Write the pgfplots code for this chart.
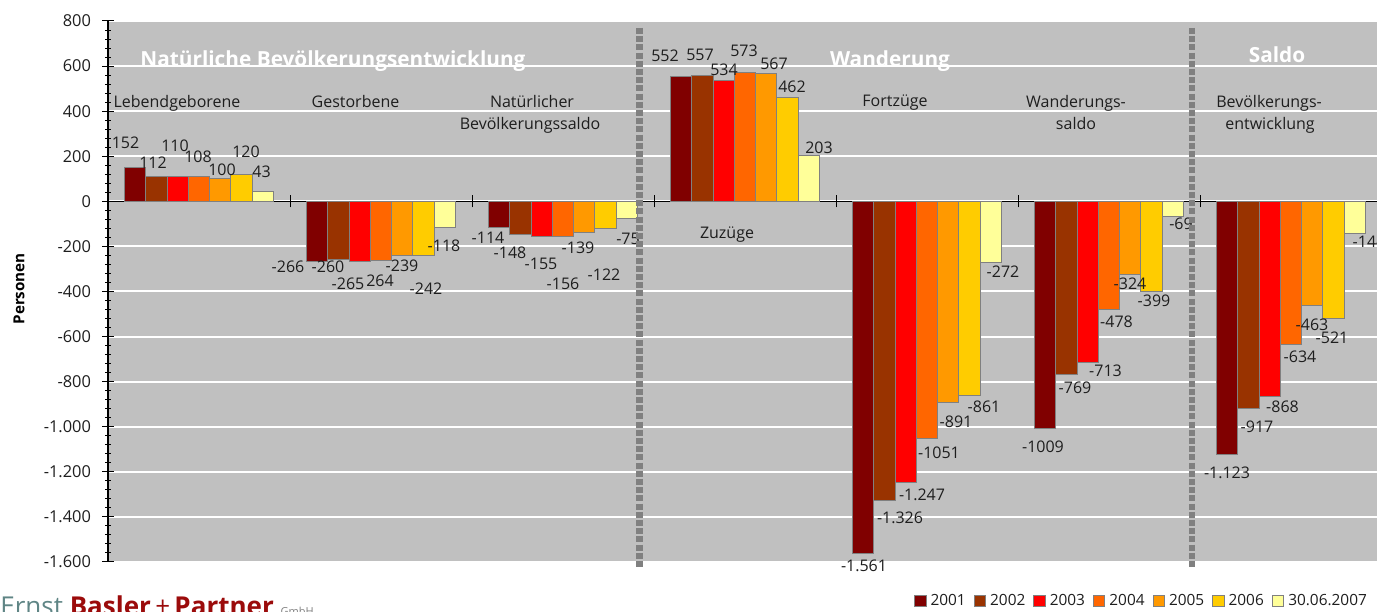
\documentclass[border=0pt]{standalone}
\usepackage{pgfplots}
\usepackage{pgfplotstable}
\pgfplotsset{compat=1.18}
\usepackage{fontspec}
\setmainfont{Open Sans}
\definecolor{c1}{HTML}{800000}
\definecolor{c2}{HTML}{993300}
\definecolor{c3}{HTML}{FF0000}
\definecolor{c4}{HTML}{FF6600}
\definecolor{c5}{HTML}{FF9900}
\definecolor{c6}{HTML}{FFCC00}
\definecolor{c7}{HTML}{FFFF99}
\definecolor{bg}{HTML}{C0C0C0}
\definecolor{sep}{HTML}{808080}
\definecolor{txt}{HTML}{1E1E1E}
\definecolor{logored}{HTML}{9B0B0B}
\definecolor{logoteal}{HTML}{5F8585}

\pgfplotstableread{
x y1 y2 y3 y4 y5 y6 y7
0 152 112 110 108 100 120 43
1 -266 -260 -265 -264 -239 -242 -118
2 -114 -148 -155 -156 -139 -122 -75
3 552 557 534 573 567 462 203
4 -1561 -1326 -1247 -1051 -891 -861 -272
5 -1009 -769 -713 -478 -324 -399 -69
6 -1123 -917 -868 -634 -463 -521 -144
}\datatable

% label placed by reference pixel position, converted to axis coordinates
\newcommand{\lbl}[4][]{%
 \pgfmathsetmacro\lx{(#2-108)/182-0.5}%
 \pgfmathsetmacro\ly{(201.4-#3)/0.22542}%
 \edef\tmp{\noexpand\node[lbl,\unexpanded{#1}] at (axis cs:\lx,\ly) {\unexpanded{#4}};}\tmp}
\newcommand{\sepline}[1]{%
 \pgfmathsetmacro\lx{(#1-108)/182-0.5}%
 \edef\tmp{\noexpand\draw[sep, line width=3.3pt, dash pattern=on 3pt off 1.1pt] (axis cs:\lx,769) -- (axis cs:\lx,-1628);}\tmp}

\tikzset{lbl/.style={font=\fontsize{8}{10}\selectfont, text=txt, inner sep=0pt, text depth=0pt, anchor=center},
 ttl/.style={font=\bfseries\fontsize{10.4}{12}\selectfont, text=white}}

\begin{document}
\begin{tikzpicture}
\useasboundingbox (0,0) rectangle (688.5pt,305.5pt);
\begin{axis}[
 at={(54pt,24.5pt)}, anchor=south west,
 scale only axis, width=634.5pt, height=270.5pt,
 xmin=-0.5, xmax=6.4725, ymin=-1600, ymax=800,
 axis x line=middle, axis y line=left,
 hide obscured x ticks=false, hide obscured y ticks=false,
 axis line style={-, black, line width=0.6pt},
 axis background/.style={fill=bg},
 clip=false,
 ybar=0pt, bar width=10.65pt,
 xtick={0.5,1.5,2.5,3.5,4.5,5.5}, xticklabels={},
 ytick={-1600,-1400,...,800}, minor y tick num=4,
 tick align=center, major tick length=6pt, minor tick length=3pt,
 tick style={black, line width=0.5pt},
 ymajorgrids, major grid style={white, line width=1pt},
 /pgf/number format/assume math mode=true,
 /pgf/number format/1000 sep={.},
 yticklabel style={font=\fontsize{8.2}{10}\selectfont, text=txt, xshift=-2pt},
 ylabel={Personen},
 ylabel style={at={(axis description cs:-0.0701,0.505)}, anchor=center, font=\bfseries\fontsize{7.6}{10}\selectfont, text=black},
 legend columns=7,
 legend style={draw=none, fill=none, at={(0.9955,-0.0721)}, anchor=east, inner sep=0pt,
   font=\fontsize{7.7}{9}\selectfont, text=txt,
   /tikz/every even column/.append style={column sep=2pt}},
 legend image code/.code={\draw[#1, draw=sep, line width=0.5pt] (0pt,-2.85pt) rectangle (5.7pt,2.85pt);},
 every axis plot/.append style={draw=sep, line width=0.5pt},
]
\addplot[fill=c1] table[x=x,y=y1] {\datatable};
\addplot[fill=c2] table[x=x,y=y2] {\datatable};
\addplot[fill=c3] table[x=x,y=y3] {\datatable};
\addplot[fill=c4] table[x=x,y=y4] {\datatable};
\addplot[fill=c5] table[x=x,y=y5] {\datatable};
\addplot[fill=c6] table[x=x,y=y6] {\datatable};
\addplot[fill=c7] table[x=x,y=y7] {\datatable};
\legend{2001,2002,2003,2004,2005,2006,30.06.2007}

% value labels
\lbl{125.5}{143}{152}\lbl{153}{163}{112}\lbl{175}{146}{110}\lbl{198}{157}{108}\lbl{222}{170}{100}\lbl{246}{152}{120}\lbl{261.5}{172}{43}
\lbl{288}{267}{-266}\lbl{328}{267}{-260}\lbl{348}{284}{-265}\lbl{380}{281}{264}\lbl{402}{266}{-239}\lbl{426}{289}{-242}\lbl{444}{246}{-118}
\lbl{488}{238}{-114}\lbl{510}{253}{-148}\lbl{541}{264}{-155}\lbl{563}{284}{-156}\lbl{578}{248}{-139}\lbl{604}{275}{-122}\lbl{628}{239}{-75}
\lbl{665}{56}{552}\lbl{700}{55}{557}\lbl{724}{70}{534}\lbl{744}{51}{573}\lbl{774}{64}{567}\lbl{792}{87}{462}\lbl{819}{148}{203}
\lbl{864}{566}{-1.561}\lbl{900}{518}{-1.326}\lbl{922}{495}{-1.247}\lbl{939}{453}{-1051}\lbl{956}{422}{-891}\lbl{984}{407}{-861}\lbl{1003}{272}{-272}
\lbl{1043}{447}{-1009}\lbl{1075}{388}{-769}\lbl{1105.5}{371}{-713}\lbl{1116.5}{322}{-478}\lbl{1130}{284}{-324}\lbl{1154}{301}{-399}\lbl{1181}{224}{-69}
\lbl{1227}{473}{-1.123}\lbl{1257}{427}{-917}\lbl{1282.5}{407}{-868}\lbl{1300}{357}{-634}\lbl{1312}{325}{-463}\lbl{1332}{338}{-521}\lbl{1369}{242}{-144}

% category labels
\lbl{177}{101}{Lebendgeborene}\lbl{355.5}{101}{Gestorbene}
\lbl{532}{101}{Natürlicher}\lbl{530}{123}{Bevölkerungssaldo}
\lbl{727}{233}{Zuzüge}\lbl{895}{101}{Fortzüge}
\lbl{1076}{101}{Wanderungs-}\lbl{1076}{123}{saldo}
\lbl{1269}{101}{Bevölkerungs-}\lbl{1270}{123}{entwicklung}
% group titles
\lbl[ttl]{333}{59}{Natürliche Bevölkerungsentwicklung}
\lbl[ttl]{890}{59}{Wanderung}
\lbl[ttl]{1277}{55}{Saldo}

\sepline{639.5}
\sepline{1192}
\end{axis}
\node[anchor=base west, inner sep=0pt, font=\fontsize{13}{15}\selectfont] at (0,-2.3pt)
 {{\color{logoteal}Ernst} {\bfseries\color{logored}Basler}{\color{logored}\,+\,}{\bfseries\color{logored}Partner} {\fontsize{5.5}{6}\selectfont\color{gray}GmbH}};
\end{tikzpicture}
\end{document}
